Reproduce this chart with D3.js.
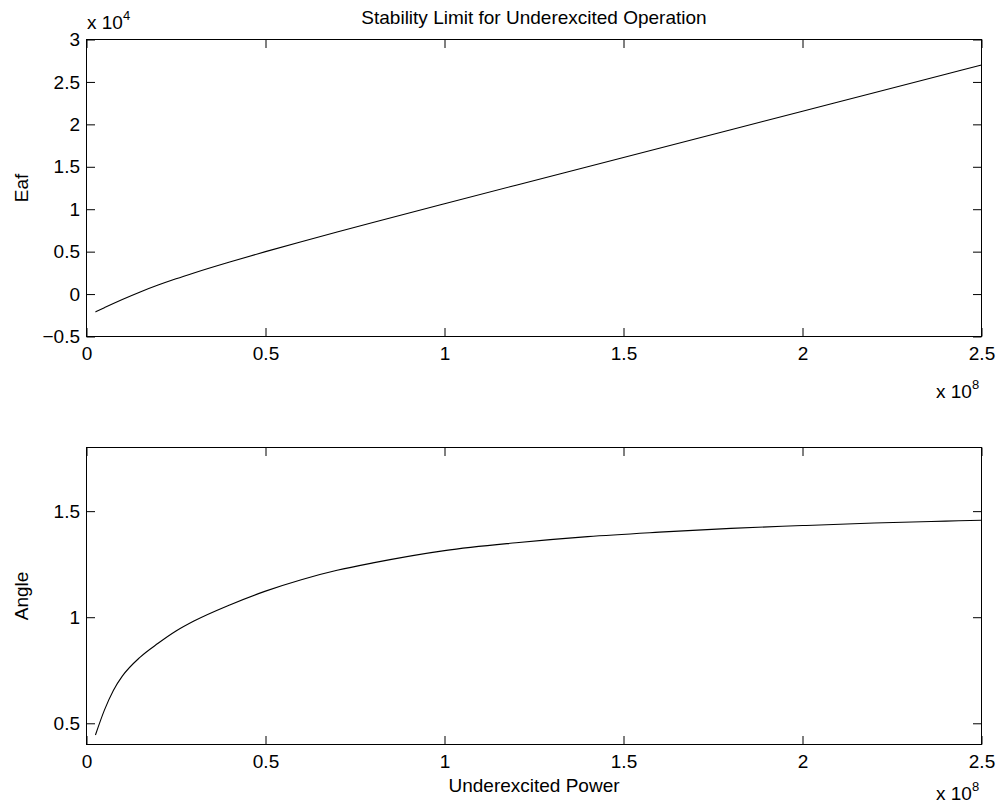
<!DOCTYPE html>
<html>
<head>
<meta charset="utf-8">
<script src="https://cdn.jsdelivr.net/npm/d3@7"></script>
<style>
  body { margin: 0; background: #fff; }
  svg text { font-family: "Liberation Sans", Arial, Helvetica, sans-serif; fill: #000; }
</style>
</head>
<body>
<div id="chart"></div>
<script>
// underexcited power (W)
var power = [0.025e8, 0.05e8, 0.075e8, 0.1e8, 0.15e8, 0.2e8, 0.25e8, 0.3e8, 0.4e8, 0.5e8,
             0.6e8, 0.7e8, 0.8e8, 1.0e8, 1.2e8, 1.4e8, 1.6e8, 1.8e8, 2.0e8, 2.2e8, 2.4e8, 2.5e8];
// Eaf (V)
var eaf = [-2100, -1600, -1110, -640, 250, 1060, 1800, 2490, 3780, 5000,
           6170, 7310, 8430, 10640, 12830, 15010, 17190, 19370, 21550, 23730, 25910, 27000];
// torque angle (rad)
var angle = [0.445, 0.562, 0.655, 0.722, 0.812, 0.877, 0.935, 0.982, 1.058, 1.123,
             1.177, 1.221, 1.256, 1.314, 1.351, 1.38, 1.401, 1.419, 1.432, 1.444, 1.453, 1.457];

var xTicks = [0, 0.5e8, 1e8, 1.5e8, 2e8, 2.5e8];
var eafTicks = [-5000, 0, 5000, 10000, 15000, 20000, 25000, 30000];
var angleTicks = [0.5, 1, 1.5];

var totalWidth = 998, totalHeight = 809;
var left = 86.5, right = 981.5;
var fontSize = 19, tickLen = 8.5;

var svg = d3.select("#chart")
    .append("svg")
    .attr("width", totalWidth)
    .attr("height", totalHeight);

var x = d3.scaleLinear().domain([0, 2.5e8]).range([left, right]);

function fmt(v) {
    var s = d3.format("~g")(+v.toFixed(6));
    return s.replace("-", "\u2212");
}

function panel(top, bottom, yDomain, yTicks, ySeries, yScaleDiv, label) {
    var y = d3.scaleLinear().domain(yDomain).range([bottom, top]);
    var g = svg.append("g");

    // inward ticks on all four sides, like the matlab box
    g.append("g")
        .attr("transform", "translate(0," + bottom + ")")
        .call(d3.axisBottom(x).tickValues(xTicks).tickSize(-tickLen).tickPadding(10)
            .tickFormat(d => fmt(d / 1e8)))
        .call(a => a.select(".domain").remove());
    g.append("g")
        .attr("transform", "translate(0," + top + ")")
        .call(d3.axisTop(x).tickValues(xTicks).tickSize(-tickLen).tickFormat(""))
        .call(a => a.select(".domain").remove());
    g.append("g")
        .attr("transform", "translate(" + left + ",0)")
        .call(d3.axisLeft(y).tickValues(yTicks).tickSize(-tickLen).tickPadding(6.5)
            .tickFormat(d => fmt(d / yScaleDiv)))
        .call(a => a.select(".domain").remove());
    g.append("g")
        .attr("transform", "translate(" + right + ",0)")
        .call(d3.axisRight(y).tickValues(yTicks).tickSize(-tickLen).tickFormat(""))
        .call(a => a.select(".domain").remove());

    g.selectAll(".tick line").attr("stroke", "#000");
    g.selectAll(".tick text").style("font-size", fontSize + "px")
        .style("font-family", "'Liberation Sans', Arial, sans-serif");

    g.append("rect")
        .attr("x", left).attr("y", top)
        .attr("width", right - left).attr("height", bottom - top)
        .attr("fill", "none").attr("stroke", "#000").attr("stroke-width", 1);

    g.append("path")
        .datum(power.map((p, i) => [p, ySeries[i]]))
        .attr("fill", "none")
        .attr("stroke", "#000")
        .attr("stroke-width", 1.1)
        .attr("d", d3.line().x(d => x(d[0])).y(d => y(d[1])).curve(d3.curveMonotoneX));

    g.append("text")
        .attr("transform", "translate(28," + (top + bottom) / 2 + ") rotate(-90)")
        .attr("text-anchor", "middle")
        .style("font-size", fontSize + "px")
        .text(label);

    return y;
}

// multiplier labels
function multiplier(xPos, yPos, exp) {
    var t = svg.append("text")
        .attr("x", xPos).attr("y", yPos)
        .style("font-size", fontSize + "px");
    t.append("tspan").text("x 10");
    t.append("tspan").attr("dy", -9).style("font-size", "13px").text(exp);
}

panel(39.5, 336.5, [-5000, 30000], eafTicks, eaf, 1e4, "Eaf");
panel(447.5, 744.5, [0.4, 1.8], angleTicks, angle, 1, "Angle");

multiplier(87, 29, "4");
multiplier(936, 398, "8");
multiplier(936, 800, "8");

svg.append("text")
    .attr("x", (left + right) / 2).attr("y", 24)
    .attr("text-anchor", "middle")
    .style("font-size", fontSize + "px")
    .text("Stability Limit for Underexcited Operation");

svg.append("text")
    .attr("x", (left + right) / 2).attr("y", 792)
    .attr("text-anchor", "middle")
    .style("font-size", fontSize + "px")
    .text("Underexcited Power");
</script>
</body>
</html>
